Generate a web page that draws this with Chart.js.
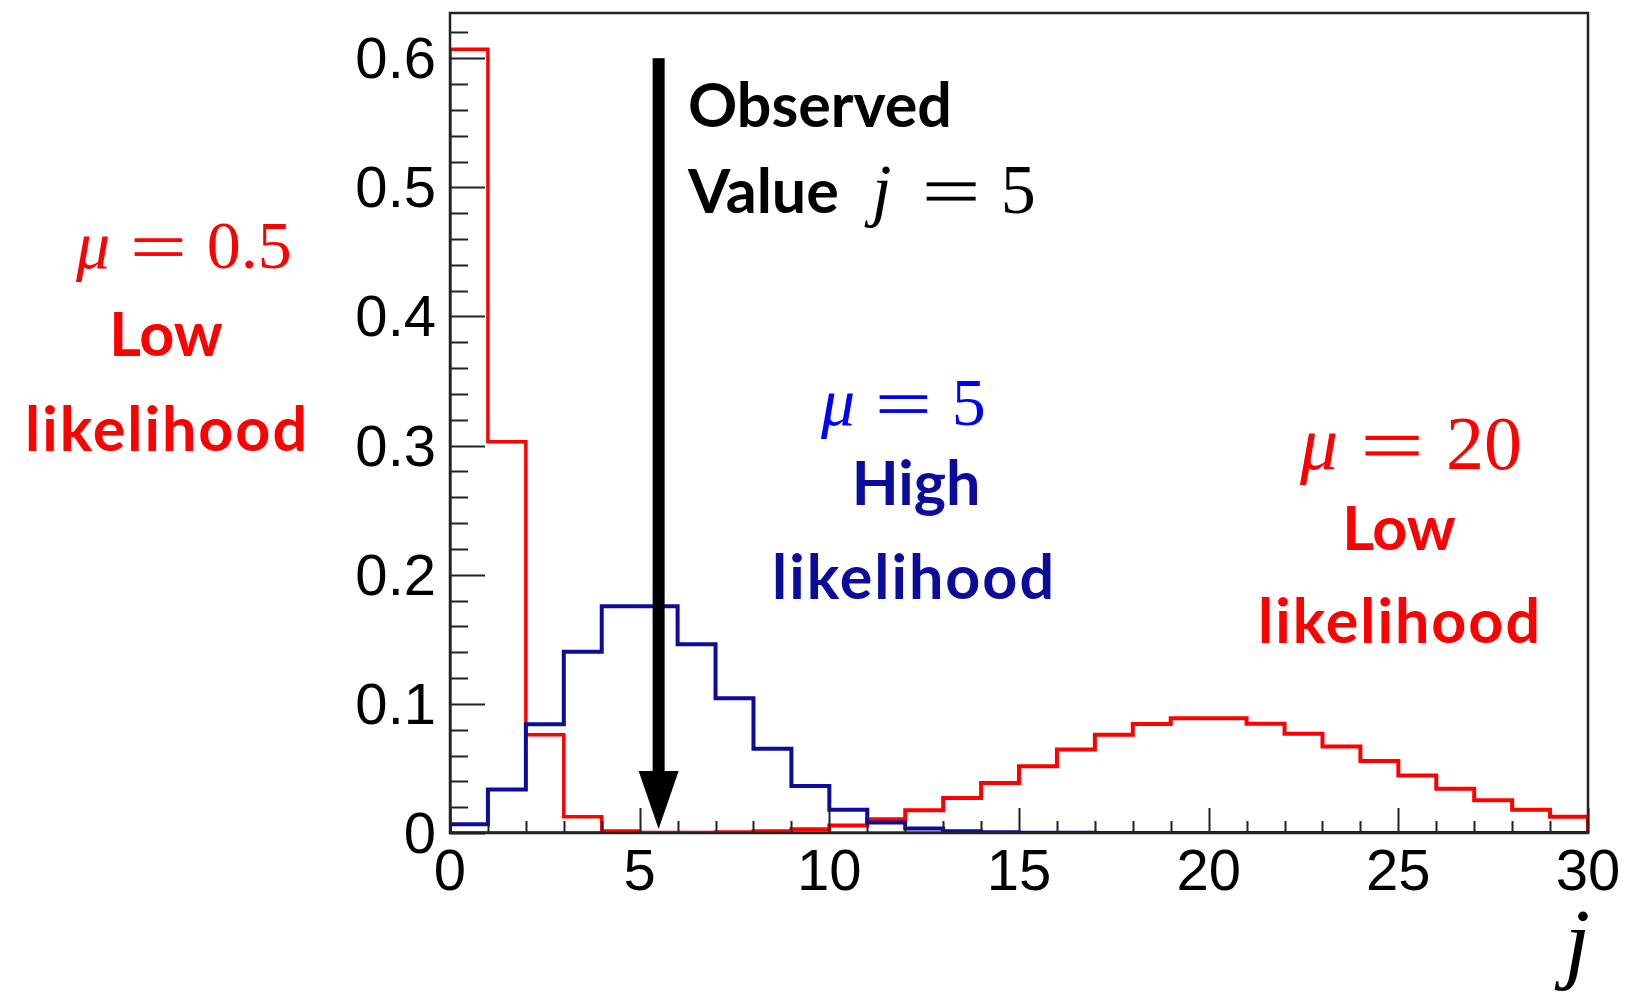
<!DOCTYPE html>
<html>
<head>
<meta charset="utf-8">
<script src="https://cdn.jsdelivr.net/npm/chart.js@4.4.0/dist/chart.umd.min.js"></script>
<style>
  html, body { margin: 0; padding: 0; background: #fff; overflow: hidden; }
  #wrap { position: relative; width: 1627px; height: 995px; }
</style>
</head>
<body>
<div id="wrap"><canvas id="c" width="1627" height="995"></canvas></div>
<script>
// Bin lower edges j = 0..29 (each bin is one unit wide)
const bins = [0, 1, 2, 3, 4, 5, 6, 7, 8, 9, 10, 11, 12, 13, 14, 15, 16, 17, 18, 19,
              20, 21, 22, 23, 24, 25, 26, 27, 28, 29];

// Poisson probability P(j | mu) for each bin
const probMu05 = [0.607, 0.303, 0.076, 0.0126, 0.0016, 0.0002, 0, 0, 0, 0,
                  0, 0, 0, 0, 0, 0, 0, 0, 0, 0,
                  0, 0, 0, 0, 0, 0, 0, 0, 0, 0];
const probMu5  = [0.0067, 0.0337, 0.0842, 0.1404, 0.1755, 0.1755, 0.1462, 0.1044, 0.0653, 0.0363,
                  0.0181, 0.0082, 0.0034, 0.0013, 0.0005, 0.0002, 0.0001, 0, 0, 0,
                  0, 0, 0, 0, 0, 0, 0, 0, 0, 0];
const probMu20 = [0, 0, 0, 0, 0, 0.0001, 0.0002, 0.0005, 0.0013, 0.0029,
                  0.0058, 0.0106, 0.0176, 0.0271, 0.0387, 0.0516, 0.0646, 0.0760, 0.0844, 0.0888,
                  0.0888, 0.0846, 0.0769, 0.0669, 0.0557, 0.0446, 0.0343, 0.0254, 0.0181, 0.0125];

// Axis ticks
const xTickValues = [0, 5, 10, 15, 20, 25, 30];
const xTickLabels = ['0', '5', '10', '15', '20', '25', '30'];
const yTickValues = [0, 0.1, 0.2, 0.3, 0.4, 0.5, 0.6];
const yTickLabels = ['0', '0.1', '0.2', '0.3', '0.4', '0.5', '0.6'];

// The measured count
const observedJ = 5;

// Outline of a histogram: up from the baseline, across each bin, down at the end
function histOutline(values) {
  const last = bins.length - 1;
  const pts = [{ x: bins[0], y: 0 }];
  values.forEach((v, i) => pts.push({ x: bins[i], y: v }));
  pts.push({ x: bins[last] + 1, y: values[last] });
  pts.push({ x: bins[last] + 1, y: 0 });
  return pts;
}

const RED = '#ff0000';
const NAVY = '#0b0b9c';
const TICK_FONT = 'Liberation Sans';
const BOLD_FONT = 'Lato';
const MATH_FONT = 'Liberation Serif';

function lineDataset(label, values, color, width, order) {
  return {
    label, data: histOutline(values), borderColor: color, backgroundColor: color,
    borderWidth: width, pointRadius: 0, stepped: 'before', tension: 0, fill: false,
    borderJoinStyle: 'miter', borderCapStyle: 'butt', order
  };
}

// Frame and inward ticks (major + minor)
const framePlugin = {
  id: 'frame',
  afterDatasetsDraw(chart) {
    const { ctx, chartArea: a, scales: { x, y } } = chart;
    ctx.save();
    ctx.strokeStyle = '#222';
    ctx.lineWidth = 2;
    ctx.beginPath();
    // y ticks every 0.02, long at every 0.1
    for (let k = 0; k * 0.02 <= y.max + 1e-9; k++) {
      const py = Math.round(y.getPixelForValue(k * 0.02)) + 0.5;
      const len = (k % 5 === 0) ? 35 : 18;
      ctx.moveTo(a.left, py); ctx.lineTo(a.left + len, py);
    }
    // x ticks every unit, long at every 5
    for (let k = 0; k <= x.max; k++) {
      const px = Math.round(x.getPixelForValue(k)) + 0.5;
      const len = (k % 5 === 0) ? 25 : 12;
      ctx.moveTo(px, a.bottom); ctx.lineTo(px, a.bottom - len);
    }
    ctx.stroke();
    ctx.lineWidth = 2.5;
    ctx.strokeRect(a.left, a.top, a.right - a.left, a.bottom - a.top);
    ctx.restore();
  }
};

// Math-style text: italic symbol, a long "=" sign, upright value
function drawMath(ctx, sym, rhs, x, baseline, size, color, symExtra) {
  ctx.save();
  ctx.fillStyle = color;
  ctx.textAlign = 'left';
  ctx.textBaseline = 'alphabetic';
  const gap = 0.36 * size;
  ctx.font = `italic ${size}px "${MATH_FONT}"`;
  ctx.fillText(sym, x, baseline);
  let cx = x + ctx.measureText(sym).width + gap + (symExtra || 0);
  const eqW = 0.7 * size, barH = 0.055 * size;
  ctx.fillRect(cx, baseline - 0.41 * size - barH / 2, eqW, barH);
  ctx.fillRect(cx, baseline - 0.205 * size - barH / 2, eqW, barH);
  cx += eqW + gap;
  ctx.font = `${size}px "${MATH_FONT}"`;
  ctx.fillText(rhs, cx, baseline);
  ctx.restore();
}

function drawBold(ctx, text, x, baseline, size, color, align, spacing) {
  ctx.save();
  ctx.fillStyle = color;
  ctx.textAlign = align;
  ctx.textBaseline = 'alphabetic';
  ctx.font = `bold ${size}px "${BOLD_FONT}"`;
  ctx.letterSpacing = (spacing || 0) + 'px';
  ctx.fillText(text, x, baseline);
  ctx.restore();
}

const notesPlugin = {
  id: 'notes',
  afterDraw(chart) {
    const { ctx, scales: { x, y } } = chart;

    // Arrow at the centre of the observed bin
    const ax = x.getPixelForValue(observedJ + 0.5);
    const yTop = y.getPixelForValue(0.6);
    const yTip = y.getPixelForValue(0) - 4;
    const headH = 58, headW = 40, shaftW = 12;
    ctx.save();
    ctx.fillStyle = '#000';
    ctx.fillRect(ax - shaftW / 2, yTop, shaftW, yTip - headH - yTop + 2);
    ctx.beginPath();
    ctx.moveTo(ax - headW / 2, yTip - headH);
    ctx.lineTo(ax + headW / 2, yTip - headH);
    ctx.lineTo(ax, yTip);
    ctx.closePath();
    ctx.fill();
    ctx.restore();

    drawBold(ctx, 'Observed', 688, 127, 61, '#000', 'left', 0);
    drawBold(ctx, 'Value', 688, 213, 61, '#000', 'left', 0);
    drawMath(ctx, 'j', '5', 872, 213, 70, '#000', 10);

    drawMath(ctx, 'μ', '0.5', 76, 268, 68, RED);
    drawBold(ctx, 'Low', 166, 356, 61, RED, 'center', 0);
    drawBold(ctx, 'likelihood', 167, 451, 61, RED, 'center', 2);

    drawMath(ctx, 'μ', '5', 821, 425, 68, '#0000ff');
    drawBold(ctx, 'High', 916, 505, 61, NAVY, 'center', 0);
    drawBold(ctx, 'likelihood', 914, 599, 61, NAVY, 'center', 2);

    drawMath(ctx, 'μ', '20', 1300, 469, 76, RED);
    drawBold(ctx, 'Low', 1399, 550, 61, RED, 'center', 0);
    drawBold(ctx, 'likelihood', 1400, 643, 61, RED, 'center', 2);

    // axis title
    ctx.save();
    ctx.fillStyle = '#000';
    ctx.textAlign = 'right';
    ctx.textBaseline = 'alphabetic';
    ctx.font = `italic 92px "${MATH_FONT}"`;
    ctx.fillText('j', 1590, 972);
    ctx.restore();
  }
};

new Chart(document.getElementById('c'), {
  type: 'line',
  data: {
    datasets: [
      lineDataset('μ = 0.5', probMu05, RED, 3.5, 2),
      lineDataset('μ = 20', probMu20, RED, 4, 1),
      lineDataset('μ = 5', probMu5, NAVY, 4, 0)
    ]
  },
  options: {
    responsive: false,
    devicePixelRatio: 1,
    animation: false,
    events: [],
    layout: { padding: { top: 13, right: 39, left: 0, bottom: 0 } },
    plugins: { legend: { display: false }, tooltip: { enabled: false } },
    scales: {
      x: {
        type: 'linear', min: 0, max: 30,
        afterBuildTicks: s => { s.ticks = xTickValues.map(v => ({ value: v })); },
        afterFit: s => { s.height = 162; s.paddingLeft = 0; s.paddingRight = 0; },
        ticks: {
          autoSkip: false, maxRotation: 0, padding: 6, color: '#000',
          font: { family: TICK_FONT, size: 58 },
          callback: v => { const i = xTickValues.indexOf(v); return i < 0 ? '' : xTickLabels[i]; }
        },
        grid: { display: false, drawTicks: false },
        border: { display: false }
      },
      y: {
        type: 'linear', min: 0, max: 0.635,
        afterBuildTicks: s => { s.ticks = yTickValues.map(v => ({ value: v })); },
        afterFit: s => { s.width = 450; s.paddingTop = 0; s.paddingBottom = 0; },
        ticks: {
          autoSkip: false, padding: 14, labelOffset: 4, color: '#000',
          font: { family: TICK_FONT, size: 58 },
          callback: v => {
            const i = yTickValues.findIndex(t => Math.abs(t - v) < 1e-9);
            return i < 0 ? '' : yTickLabels[i];
          }
        },
        grid: { display: false, drawTicks: false },
        border: { display: false }
      }
    }
  },
  plugins: [framePlugin, notesPlugin]
});
</script>
</body>
</html>
